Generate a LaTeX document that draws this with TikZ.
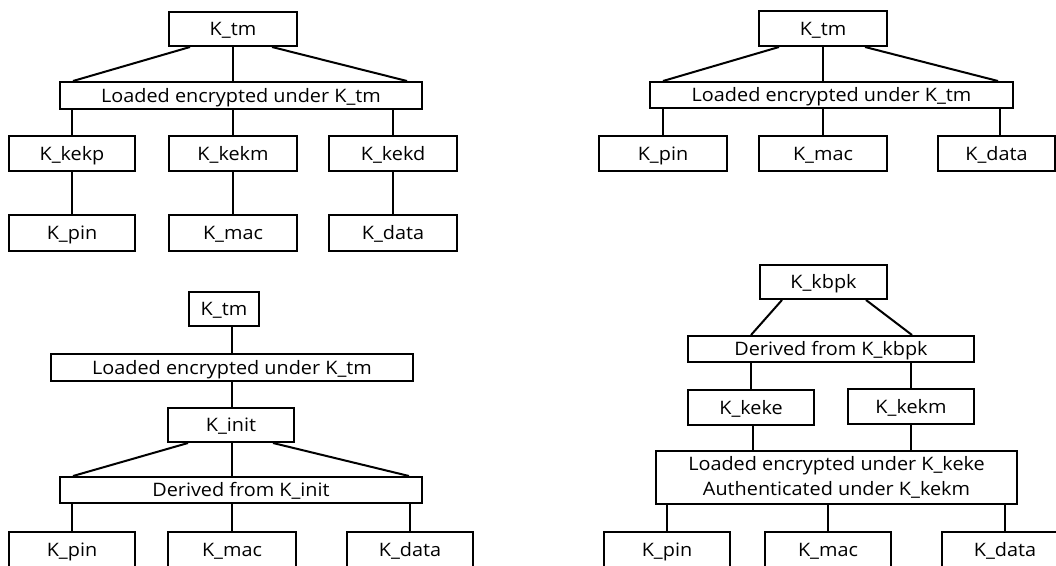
\documentclass[tikz,border=0pt]{standalone}
\usepackage{fontspec}
\setmainfont{Open Sans}[FakeStretch=1.07]
\usetikzlibrary{calc}
\tikzset{
  basebox/.style={draw, rectangle, inner sep=0pt, align=center,
    font=\fontsize{13.9}{18.75}\selectfont},
  keybox/.style={basebox, text height=12.9pt, text depth=3pt},
  tallbox/.style={basebox},
  link/.style={line width=1.5pt}
}
\newcommand\mybox[7][keybox]{\node[#1, minimum width=#5*0.75pt, minimum height=#6*0.75pt] (#2) at (#3,#4) {#7};}
\begin{document}
\begin{tikzpicture}[x=0.75pt,y=-0.75pt,line width=1.5pt]
\useasboundingbox (0,0) rectangle (1056,565);
\clip (0,0) rectangle (1056,565);
% ---------- top left ----------
\mybox{a_tm}{233}{29}{128}{34}{K\_tm}
\mybox{a_load}{241}{95.5}{362}{27}{Loaded encrypted under K\_tm}
\mybox{a_kp}{72}{153.5}{126}{35}{K\_kekp}
\mybox{a_km}{233}{153.5}{128}{35}{K\_kekm}
\mybox{a_kd}{393}{153.5}{128}{35}{K\_kekd}
\mybox{a_pin}{72}{233}{126}{36}{K\_pin}
\mybox{a_mac}{233}{233}{128}{36}{K\_mac}
\mybox{a_data}{393}{233}{128}{36}{K\_data}
\draw[link] ($(a_tm.south)+(-43,0)$) -- ($(a_load.north)+(-168,0)$);
\draw[link] (a_tm.south) -- (a_tm.south |- a_load.north);
\draw[link] ($(a_tm.south)+(39,0)$) -- ($(a_load.north)+(166,0)$);
\draw[link] (a_kp.north |- a_load.south) -- (a_kp.north);
\draw[link] (a_km.north |- a_load.south) -- (a_km.north);
\draw[link] (a_kd.north |- a_load.south) -- (a_kd.north);
\draw[link] (a_kp) -- (a_pin);
\draw[link] (a_km) -- (a_mac);
\draw[link] (a_kd) -- (a_data);
% ---------- top right ----------
\mybox{b_tm}{823}{28.5}{128}{35}{K\_tm}
\mybox{b_load}{831.5}{95}{363}{26}{Loaded encrypted under K\_tm}
\mybox{b_pin}{663}{153.5}{128}{35}{K\_pin}
\mybox{b_mac}{823}{153.5}{128}{35}{K\_mac}
\mybox{b_data}{996.5}{153.5}{117}{35}{K\_data}
\draw[link] ($(b_tm.south)+(-44,0)$) -- ($(b_load.north)+(-168.5,0)$);
\draw[link] (b_tm.south) -- (b_tm.south |- b_load.north);
\draw[link] ($(b_tm.south)+(42,0)$) -- ($(b_load.north)+(166.5,0)$);
\draw[link] (b_pin.north |- b_load.south) -- (b_pin.north);
\draw[link] (b_mac.north |- b_load.south) -- (b_mac.north);
\coordinate (bd) at ($(b_data.north)+(3.5,0)$);
\draw[link] (bd |- b_load.south) -- (bd);
% ---------- bottom left ----------
\mybox{c_tm}{224}{309}{70}{34}{K\_tm}
\mybox{c_load}{232}{367.5}{362}{27}{Loaded encrypted under K\_tm}
\mybox{c_init}{231}{425}{126}{34}{K\_init}
\mybox{c_der}{241}{490}{362}{26}{Derived from K\_init}
\mybox{c_pin}{72}{550}{126}{36}{K\_pin}
\mybox{c_mac}{232}{550}{128}{36}{K\_mac}
\mybox{c_data}{410}{550}{126}{36}{K\_data}
\draw[link] (c_load.north |- c_tm.south) -- (c_load.north);
\draw[link] (c_load.south) -- (c_load.south |- c_init.north);
\draw[link] ($(c_init.south)+(-43,0)$) -- ($(c_der.north)+(-168,0)$);
\draw[link] (c_der.north -| c_load.south) -- (c_load.south |- c_init.south);
\draw[link] ($(c_init.south)+(42,0)$) -- ($(c_der.north)+(168,0)$);
\draw[link] (c_pin.north |- c_der.south) -- (c_pin.north);
\draw[link] (c_mac.north |- c_der.south) -- (c_mac.north);
\draw[link] (c_data.north |- c_der.south) -- (c_data.north);
% ---------- bottom right ----------
\mybox{d_kbpk}{823.5}{282}{127}{34}{K\_kbpk}
\mybox{d_der}{831}{349}{286}{26}{Derived from K\_kbpk}
\mybox{d_keke}{751}{407.5}{126}{35}{K\_keke}
\mybox{d_kekm}{911}{406.5}{126}{35}{K\_kekm}
\mybox[tallbox]{d_load}{836.5}{477.5}{361}{53}{Loaded encrypted under K\_keke\\Authenticated under K\_kekm}
\mybox{d_pin}{667}{550}{126}{36}{K\_pin}
\mybox{d_mac}{828}{550}{126}{36}{K\_mac}
\mybox{d_data}{1005}{550}{126}{36}{K\_data}
\draw[link] ($(d_kbpk.south)+(-41.5,0)$) -- ($(d_der.north)+(-80,0)$);
\draw[link] ($(d_kbpk.south)+(42.5,0)$) -- ($(d_der.north)+(81,0)$);
\draw[link] (d_keke.north |- d_der.south) -- (d_keke.north);
\draw[link] (d_kekm.north |- d_der.south) -- (d_kekm.north);
\coordinate (dk) at ($(d_keke.south)+(2,0)$);
\draw[link] (dk) -- (dk |- d_load.north);
\draw[link] (d_kekm.south) -- (d_kekm.south |- d_load.north);
\draw[link] (d_pin.north |- d_load.south) -- (d_pin.north);
\draw[link] (d_mac.north |- d_load.south) -- (d_mac.north);
\draw[link] (d_data.north |- d_load.south) -- (d_data.north);
\end{tikzpicture}
\end{document}
